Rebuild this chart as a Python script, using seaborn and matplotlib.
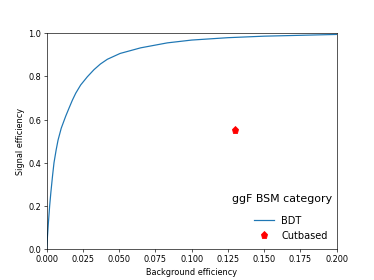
import matplotlib
matplotlib.use('Agg')
import matplotlib.pyplot as plt
import seaborn as sns

# ROC curve of the BDT
bkg_eff = [0.0, 0.0005, 0.001, 0.002, 0.0028, 0.004, 0.005, 0.0065, 0.0078,
           0.010, 0.0131, 0.0155, 0.0177, 0.020, 0.0234, 0.028, 0.0326, 0.037,
           0.0418, 0.0506, 0.0648, 0.0832, 0.100, 0.125, 0.150, 0.175, 0.2]
sig_eff = [0.0, 0.06, 0.11, 0.20, 0.26, 0.34, 0.40, 0.46, 0.505,
           0.56, 0.616, 0.655, 0.69, 0.722, 0.76, 0.798, 0.831, 0.857,
           0.879, 0.906, 0.932, 0.955, 0.968, 0.979, 0.986, 0.99, 0.994]

# cut based working point
cut_bkg = [0.13]
cut_sig = [0.55]

fig, ax = plt.subplots(figsize=(6.4, 4.8), dpi=58.44)

sns.lineplot(x=bkg_eff, y=sig_eff, ax=ax, color='#1f77b4', linewidth=1.5,
             estimator=None, sort=False, label='BDT')
ax.plot(cut_bkg, cut_sig, 'p', color='red', markersize=9, linestyle='none',
        label='Cutbased')

ax.set_xlim(0, 0.2)
ax.set_ylim(0, 1.0)
ax.set_xlabel('Background efficiency')
ax.set_ylabel('Signal efficiency')
ax.legend(loc='lower right', frameon=False, fontsize=12)
ax.text(0.986, 0.22, 'ggF BSM category', transform=ax.transAxes,
        ha='right', va='baseline', fontsize=13.5)

fig.savefig('out.png', dpi=58.44)
